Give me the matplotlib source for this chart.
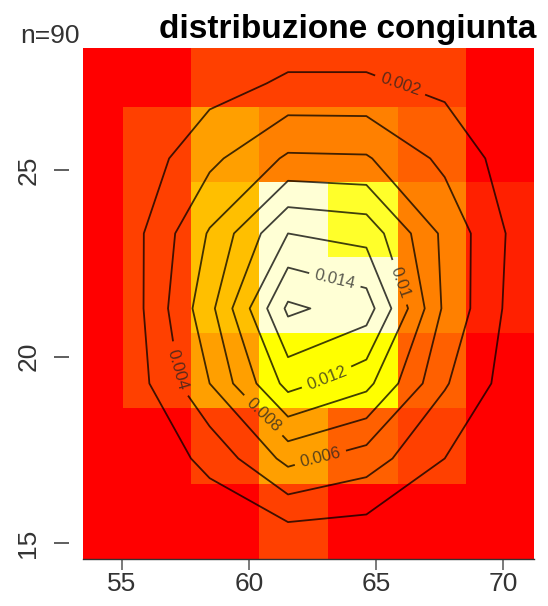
import numpy as np
import matplotlib
matplotlib.use("Agg")
import matplotlib.pyplot as plt
from matplotlib.colors import ListedColormap, BoundaryNorm

plt.rcParams["font.family"] = ["Liberation Sans", "DejaVu Sans"]

# bin edges of the 2-D frequency image
x_edges = [52.35, 55.04, 57.72, 60.40, 63.12, 65.85, 68.52, 71.21]
y_edges = [14.57, 16.60, 18.62, 20.64, 22.66, 24.67, 26.69, 28.70]

# colour class of each cell (0 = lowest, 11 = highest), rows bottom -> top
cell_level = [
    [0, 0, 0, 2, 0, 0, 0],
    [0, 0, 2, 5, 3, 2, 0],
    [0, 2, 5, 8, 8, 3, 0],
    [0, 2, 6, 11, 11, 4, 1],
    [0, 2, 6, 11, 9, 4, 1],
    [0, 2, 5, 4, 4, 3, 0],
    [0, 0, 2, 2, 2, 2, 0],
]

# kernel density estimate on a coarse grid
kde_x = [52.30, 55.38, 58.46, 61.54, 64.62, 67.70, 70.78]
kde_y = [13.26, 15.27, 17.27, 19.28, 21.29, 23.30, 25.31, 27.32, 29.33]
kde_z = [
    [0.0000, 0.0000, 0.0001, 0.0002, 0.0002, 0.0001, 0.0000],
    [0.0000, 0.0003, 0.0006, 0.0012, 0.0010, 0.0004, 0.0001],
    [0.0001, 0.0004, 0.0025, 0.0066, 0.0050, 0.0020, 0.0002],
    [0.0002, 0.0008, 0.0060, 0.0127, 0.0106, 0.0042, 0.0005],
    [0.0002, 0.0010, 0.0074, 0.0164, 0.0150, 0.0056, 0.0007],
    [0.0002, 0.0012, 0.0062, 0.0120, 0.0113, 0.0055, 0.0010],
    [0.0001, 0.0006, 0.0035, 0.0063, 0.0062, 0.0035, 0.0006],
    [0.0000, 0.0002, 0.0012, 0.0023, 0.0023, 0.0015, 0.0002],
    [0.0000, 0.0000, 0.0002, 0.0003, 0.0003, 0.0002, 0.0000],
]
levels = [0.002, 0.004, 0.006, 0.008, 0.010, 0.012, 0.014, 0.016]

x_ticks = [55, 60, 65, 70]
y_ticks = [15, 20, 25]
n_obs = 90
title = "distribuzione congiunta"

# R heat.colors(12)
heat = ["#FF0000", "#FF2000", "#FF4000", "#FF6000", "#FF8000", "#FF9F00",
        "#FFBF00", "#FFDF00", "#FFFF00", "#FFFF2A", "#FFFF80", "#FFFFD5"]
cmap = ListedColormap(heat)
norm = BoundaryNorm(np.arange(-0.5, 12.5, 1), cmap.N)

fig = plt.figure(figsize=(5.48, 6.06), dpi=100)
ax = fig.add_axes([0.1509, 0.0771, 0.9745 - 0.1509, 0.9203 - 0.0771])

ax.pcolormesh(x_edges, y_edges, np.array(cell_level), cmap=cmap, norm=norm)

cs = ax.contour(kde_x, kde_y, np.array(kde_z), levels=levels,
                colors="black", linewidths=1.3, alpha=0.75)

# label spots, one near each labelled line (0.002 ... 0.014)
label_pos = [(65.95, 27.28), (57.18, 19.64), (62.8, 17.33), (60.7, 18.53),
             (65.81, 21.96), (63.12, 19.33), (63.38, 22.05)]
ax.clabel(cs, levels=levels[:-1], manual=label_pos, inline=True,
          inline_spacing=4, fontsize=12, fmt=lambda v: f"{v:g}",
          colors="#222222")

ax.set_xlim(53.47, 71.21)
ax.set_ylim(14.57, 28.26)
ax.set_xticks(x_ticks)
ax.set_yticks(y_ticks)

for side in ["top", "right"]:
    ax.spines[side].set_visible(False)
ax.spines["left"].set_position(("outward", 9.6))
ax.spines["left"].set_color("none")
ax.spines["bottom"].set_color("#333333")
ax.spines["bottom"].set_linewidth(1.0)

ax.tick_params(axis="x", length=8, width=1.1, color="#555555", pad=1,
               labelsize=19, labelcolor="#333333")
ax.tick_params(axis="y", length=10.8, width=1.1, color="#333333", pad=10,
               labelsize=19, labelcolor="#333333", labelrotation=90)
for lab in ax.get_yticklabels():
    lab.set_va("center")

fig.text(536 / 548, 1 - 38 / 606, title, ha="right", va="baseline",
         fontsize=24, fontweight="bold")
fig.text(20.7 / 548, 1 - 42.7 / 606, f"n={n_obs}", ha="left",
         va="baseline", fontsize=19, color="#333333")

fig.savefig("out.png", dpi=100)
